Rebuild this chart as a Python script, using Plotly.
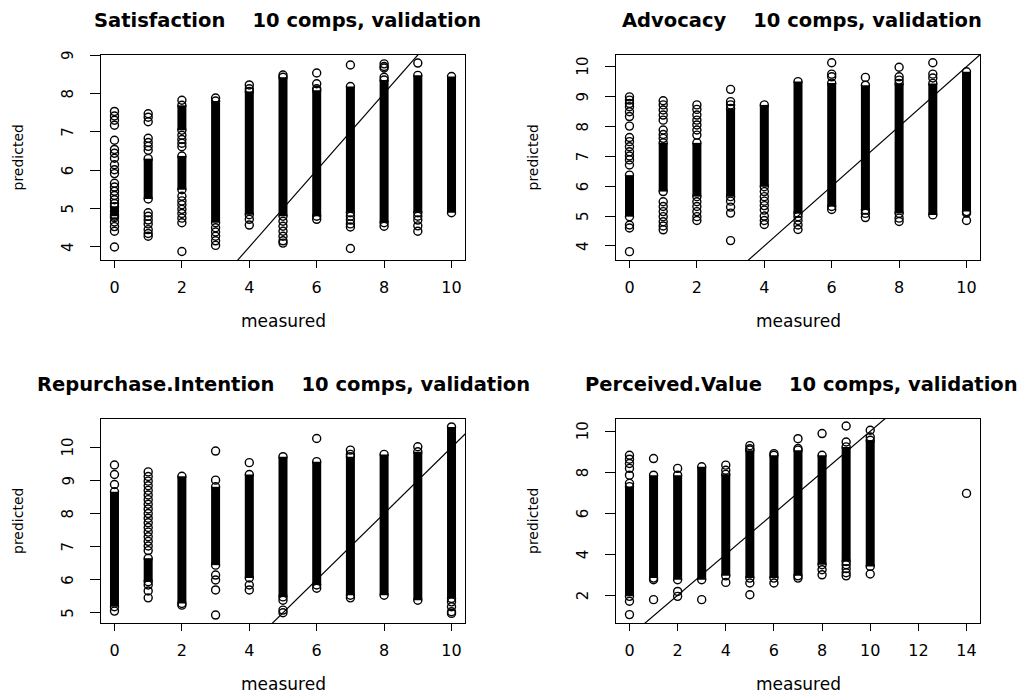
import plotly.graph_objects as go

W, H = 1030, 696

# ---------------- data ----------------
# Each "points" entry: (measured, [predicted values of separately visible circles])
# Each "bands" entry: (measured, low, high) = a run of circles so dense it prints as a solid column

sat_points = [
    (0, [7.53, 7.41, 7.30, 7.17, 6.78, 6.54, 6.44, 6.31, 6.14, 6.01, 5.91, 5.66, 5.56, 5.45,
         5.34, 5.23, 5.13, 4.93, 4.84, 4.76, 4.65, 4.53, 4.41, 4.00]),
    (1, [7.47, 7.38, 7.26, 6.83, 6.72, 6.62, 6.52, 4.89, 4.80, 4.70, 4.60, 4.45, 4.35, 4.28]),
    (2, [7.82, 6.91, 6.80, 6.70, 6.61, 5.32, 5.20, 5.10, 4.98, 4.87, 4.75, 4.63, 3.88]),
    (3, [7.88, 4.50, 4.39, 4.28, 4.16, 4.04]),
    (4, [8.22, 8.12, 4.72, 4.57]),
    (5, [8.48, 4.67, 4.54, 4.41, 4.28, 4.16, 4.10]),
    (6, [8.53, 8.25, 8.12, 4.72]),
    (7, [8.74, 4.80, 4.70, 4.60, 4.52, 3.96]),
    (8, [8.77, 8.70, 8.66, 8.42, 4.54]),
    (9, [8.79, 4.80, 4.70, 4.55, 4.41]),
]
sat_bands = [(0, 4.80, 5.05), (1, 5.25, 6.30), (2, 7.04, 7.69), (2, 5.49, 6.37), (3, 4.63, 7.80),
             (4, 4.84, 8.05), (5, 4.80, 8.42), (6, 4.80, 8.08), (7, 4.89, 8.18), (8, 4.63, 8.35),
             (9, 4.89, 8.47), (10, 4.89, 8.44)]

adv_points = [
    (0, [8.99, 8.88, 8.77, 8.66, 8.49, 8.33, 8.01, 7.63, 7.49, 7.32, 7.15, 7.01, 6.88, 6.71,
         4.70, 4.60, 3.81]),
    (1, [8.86, 8.72, 8.55, 8.38, 8.21, 7.88, 7.73, 7.60, 5.48, 5.32, 5.15, 4.98, 4.81, 4.67, 4.54]),
    (2, [8.72, 8.57, 8.38, 8.21, 8.05, 7.88, 7.71, 5.48, 5.32, 5.15, 4.98, 4.85]),
    (3, [9.24, 8.83, 8.72, 5.50, 5.30, 5.10, 4.18]),
    (4, [5.82, 5.65, 5.50, 5.35, 5.20, 5.00, 4.85, 4.72]),
    (5, [4.98, 4.85, 4.70, 4.55]),
    (6, [10.13, 9.75, 9.66, 5.22]),
    (7, [9.64, 5.09, 4.95]),
    (8, [9.98, 9.66, 9.55, 4.93, 4.82]),
    (9, [10.13, 9.75, 9.62]),
    (10, [5.10, 4.85]),
]
adv_bands = [(0, 4.98, 6.37), (1, 5.82, 7.45), (2, 5.65, 7.45), (3, 5.65, 8.60), (4, 5.98, 8.72),
             (5, 5.09, 9.50), (6, 5.32, 9.45), (7, 5.20, 9.38), (8, 5.09, 9.44), (9, 5.04, 9.44),
             (10, 5.15, 9.83)]

rep_points = [
    (0, [9.47, 9.18, 8.88, 5.05]),
    (1, [9.26, 9.12, 8.98, 8.84, 8.70, 8.56, 8.42, 8.28, 8.14, 8.00, 7.86, 7.72, 7.58, 7.44,
         7.30, 7.16, 7.02, 6.88, 5.84, 5.66, 5.45]),
    (2, [5.23]),
    (3, [9.89, 9.01, 6.14, 5.99, 5.69, 4.93]),
    (4, [9.54, 5.84, 5.69]),
    (5, [5.38, 5.08, 5.00]),
    (6, [10.27, 5.74]),
    (7, [9.92, 9.79, 5.45]),
    (9, [10.02]),
    (10, [5.33, 5.18, 5.03, 4.98]),
]
rep_bands = [(0, 5.18, 8.66), (1, 5.94, 6.65), (2, 5.28, 9.13), (3, 6.44, 8.81), (4, 6.05, 9.18),
             (5, 5.48, 9.72), (6, 5.84, 9.57), (7, 5.53, 9.72), (8, 5.53, 9.79), (9, 5.38, 9.87),
             (10, 5.43, 10.62)]

val_points = [
    (0, [8.83, 8.64, 8.43, 8.19, 7.86, 7.46, 1.71, 1.06]),
    (1, [8.67, 2.76, 1.79]),
    (2, [8.19, 2.19, 1.95]),
    (3, [1.79]),
    (4, [8.35, 8.10, 2.63]),
    (5, [9.30, 9.15, 2.60, 2.03]),
    (6, [8.91, 2.60]),
    (7, [9.64, 9.16, 2.84]),
    (8, [9.89, 3.25, 3.00]),
    (9, [10.26, 9.48, 3.49, 3.30, 3.10, 2.95]),
    (10, [10.05, 9.72, 3.04]),
    (14, [6.97]),
]
val_bands = [(0, 1.95, 7.30), (1, 2.84, 7.86), (2, 2.76, 7.86), (3, 2.76, 8.27), (4, 2.95, 7.90),
             (5, 2.84, 9.08), (6, 2.84, 8.83), (7, 2.95, 9.08), (8, 3.49, 8.83), (9, 3.65, 9.24),
             (10, 3.41, 9.56)]

titles = ["Satisfaction", "Advocacy", "Repurchase.Intention", "Perceived.Value"]
subtitle = "10 comps, validation"
x_ticks = [[0, 2, 4, 6, 8, 10], [0, 2, 4, 6, 8, 10], [0, 2, 4, 6, 8, 10], [0, 2, 4, 6, 8, 10, 12, 14]]
y_ticks = [[4, 5, 6, 7, 8, 9], [4, 5, 6, 7, 8, 9, 10], [5, 6, 7, 8, 9, 10], [2, 4, 6, 8, 10]]

# ---------------- layout geometry ----------------
panels = [
    dict(points=sat_points, bands=sat_bands, xr=[-0.4, 10.4], yr=[3.66, 9.0],
         xd=[101, 465], yd=[55, 260], tx=287, ty=21),
    dict(points=adv_points, bands=adv_bands, xr=[-0.4, 10.4], yr=[3.53, 10.39],
         xd=[616, 980], yd=[55, 260], tx=802, ty=21),
    dict(points=rep_points, bands=rep_bands, xr=[-0.4, 10.4], yr=[4.69, 10.86],
         xd=[101, 465], yd=[419, 623], tx=283, ty=385),
    dict(points=val_points, bands=val_bands, xr=[-0.56, 14.56], yr=[0.65, 10.6],
         xd=[616, 980], yd=[419, 623], tx=801, ty=385),
]

FONT = "DejaVu Sans, Liberation Sans, Arial, sans-serif"
fig = go.Figure()
layout = dict(width=W, height=H, margin=dict(l=0, r=0, t=0, b=0),
              paper_bgcolor="white", plot_bgcolor="white", showlegend=False,
              font=dict(family=FONT, color="black"))
annotations = []

for i, p in enumerate(panels):
    n = "" if i == 0 else str(i + 1)
    xa, ya = "x" + n, "y" + n
    # solid columns
    bx, by = [], []
    for (m, lo, hi) in p["bands"]:
        bx += [m, m, None]
        by += [lo, hi, None]
    fig.add_trace(go.Scatter(x=bx, y=by, mode="lines", xaxis=xa, yaxis=ya,
                             line=dict(color="black", width=9), hoverinfo="skip"))
    # individual circles (+ the circles that end every solid column)
    px, py = [], []
    for (m, vals) in p["points"]:
        px += [m] * len(vals)
        py += vals
    for (m, lo, hi) in p["bands"]:
        px += [m, m]
        py += [lo, hi]
    fig.add_trace(go.Scatter(x=px, y=py, mode="markers", xaxis=xa, yaxis=ya,
                             marker=dict(symbol="circle-open", size=8, color="black",
                                         line=dict(width=1.4, color="black"))))
    # y = x reference line
    fig.add_trace(go.Scatter(x=[-2, 16], y=[-2, 16], mode="lines", xaxis=xa, yaxis=ya,
                             line=dict(color="black", width=1.2), hoverinfo="skip"))

    common = dict(showline=True, mirror=True, linecolor="black", linewidth=1.2,
                  ticks="outside", tickcolor="black", tickwidth=1, showgrid=False,
                  zeroline=False, fixedrange=True)
    layout["xaxis" + n] = dict(common, domain=[p["xd"][0] / W, p["xd"][1] / W],
                               anchor=ya, range=p["xr"], tickmode="array",
                               tickvals=x_ticks[i], ticklen=7, ticklabelstandoff=6,
                               tickfont=dict(size=16, family=FONT, color="black"))
    layout["yaxis" + n] = dict(common, domain=[1 - p["yd"][1] / H, 1 - p["yd"][0] / H],
                               anchor=xa, range=p["yr"], tickmode="array",
                               tickvals=y_ticks[i], ticklen=10, showticklabels=False)
    # rotated y tick labels (R style, parallel to the axis)
    for v in y_ticks[i]:
        annotations.append(dict(text=str(v), x=(p["xd"][0] - 33) / W, y=v,
                                xref="paper", yref=ya, showarrow=False, textangle=-90,
                                xanchor="center", yanchor="middle",
                                font=dict(size=15, family=FONT, color="black")))
    cx = (p["xd"][0] + p["xd"][1]) / 2
    cy = (p["yd"][0] + p["yd"][1]) / 2
    annotations.append(dict(text="<b>" + titles[i] + "\u00a0\u00a0\u00a0\u00a0" + subtitle + "</b>",
                            x=p["tx"] / W, y=1 - p["ty"] / H, xref="paper", yref="paper",
                            showarrow=False, xanchor="center", yanchor="middle",
                            font=dict(size=19.5, family=FONT, color="black")))
    annotations.append(dict(text="measured", x=cx / W, y=1 - (p["yd"][1] + 61) / H,
                            xref="paper", yref="paper", showarrow=False,
                            xanchor="center", yanchor="middle",
                            font=dict(size=17, family=FONT, color="black")))
    annotations.append(dict(text="predicted", x=(p["xd"][0] - 83) / W, y=1 - cy / H,
                            xref="paper", yref="paper", showarrow=False, textangle=-90,
                            xanchor="center", yanchor="middle",
                            font=dict(size=14, family=FONT, color="#000000")))

layout["annotations"] = annotations
fig.update_layout(**layout)
fig.write_html("out.html")
